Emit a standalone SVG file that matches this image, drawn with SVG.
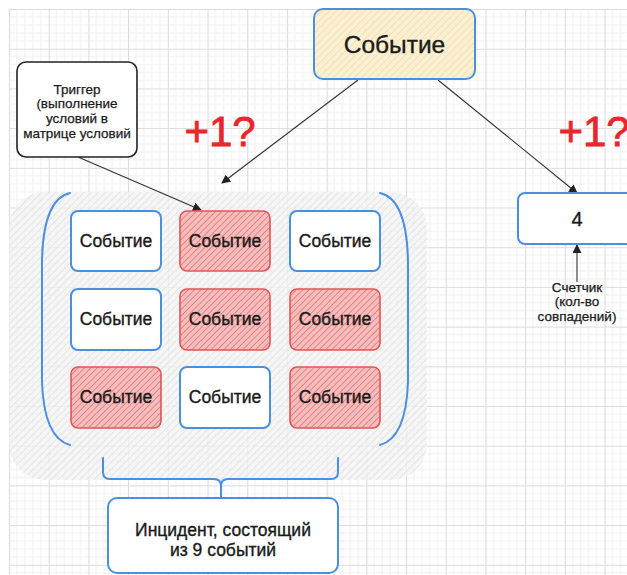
<svg xmlns="http://www.w3.org/2000/svg" width="627" height="575" viewBox="0 0 627 575">
  <defs>
    <pattern id="grid" x="9" y="9" width="39.7" height="39.7" patternUnits="userSpaceOnUse">
      <path d="M7.94 0V39.7M15.88 0V39.7M23.82 0V39.7M31.76 0V39.7M0 7.94H39.7M0 15.88H39.7M0 23.82H39.7M0 31.76H39.7" stroke="#efefef" stroke-width="1" fill="none"/>
      <path d="M0.5 0V39.7M0 0.5H39.7" stroke="#dcdcdc" stroke-width="1.2" fill="none"/>
    </pattern>
    <pattern id="hatchGray" width="5" height="5" patternUnits="userSpaceOnUse" patternTransform="rotate(45)">
      <rect width="5" height="5" fill="#f4f4f4" fill-opacity="0.8"/>
      <line x1="0" y1="0" x2="0" y2="5" stroke="#dddddd" stroke-width="1.3"/>
    </pattern>
    <pattern id="hatchRed" width="4.5" height="4.5" patternUnits="userSpaceOnUse" patternTransform="rotate(45)">
      <rect width="4.5" height="4.5" fill="#f6bdbd"/>
      <line x1="0" y1="0" x2="0" y2="4.5" stroke="#e06a6a" stroke-width="1.4"/>
    </pattern>
    <pattern id="hatchYellow" width="5" height="5" patternUnits="userSpaceOnUse" patternTransform="rotate(45)">
      <rect width="5" height="5" fill="#fcf0d2"/>
      <line x1="0" y1="0" x2="0" y2="5" stroke="#efd9a6" stroke-width="1.3"/>
    </pattern>
    <marker id="arrow" viewBox="0 0 10 10" refX="9" refY="5" markerWidth="9" markerHeight="9" markerUnits="userSpaceOnUse" orient="auto">
      <path d="M0 0L10 5L0 10z" fill="#222"/>
    </marker>
    <style>
      text { font-family: "Liberation Sans", Arial, sans-serif; fill: #1a1a1a; stroke: #1a1a1a; stroke-width: 0.35; text-anchor: middle; }
      .ev { font-size: 17.5px; }
      .small { font-size: 13.5px; stroke-width: 0.25; }
      .plus { font-size: 42px; fill: #e8262b; stroke: #e8262b; stroke-width: 0.8; }
      .blue { fill: #ffffff; stroke: #4a8fe0; stroke-width: 2; }
      .red { fill: url(#hatchRed); stroke: #e25555; stroke-width: 1.6; }
      .brace { fill: none; stroke: #4a8fe0; stroke-width: 2; stroke-linecap: round; }
      .conn { fill: none; stroke: #333; stroke-width: 1.1; }
    </style>
  </defs>

  <!-- canvas grid -->
  <rect width="627" height="575" fill="#ffffff"/>
  <rect x="9" y="9" width="618" height="566" fill="url(#grid)"/>

  <!-- shaded incident area with brackets -->
  <g id="incident-area">
    <rect x="9" y="192" width="418" height="288" rx="36" fill="url(#hatchGray)"/>
    <path class="brace" d="M70 193 Q43 199 42 262 L42 382 Q44 438 70 445"/>
    <path class="brace" d="M380 193 Q407 199 408 262 L408 382 Q406 438 380 445"/>
  </g>

  <!-- connectors -->
  <g id="connectors">
    <path class="conn" d="M358 80 L222 183" marker-end="url(#arrow)"/>
    <path class="conn" d="M438 80 L577 193" marker-end="url(#arrow)"/>
    <path class="conn" d="M78 157 L201 210" marker-end="url(#arrow)"/>
    <path class="conn" d="M577 282 L577 245" marker-end="url(#arrow)"/>
    <path class="brace" d="M103 458 L103 472 Q103 479 110 479 L214 479 Q221 479 221 486 L221 497 M221 486 Q221 479 228 479 L331 479 Q338 479 338 472 L338 458"/>
  </g>

  <!-- source event -->
  <g id="event-source">
    <rect x="314" y="9" width="161" height="70" rx="9" fill="url(#hatchYellow)" stroke="#4a8fe0" stroke-width="2"/>
    <text x="394.5" y="53" style="font-size:24.5px">Событие</text>
  </g>

  <!-- trigger note -->
  <g id="trigger">
    <rect x="17" y="62" width="120" height="95" rx="9" fill="#ffffff" stroke="#222" stroke-width="1.6"/>
    <text class="small" x="77" y="94">Триггер</text>
    <text class="small" x="77" y="108">(выполнение</text>
    <text class="small" x="77" y="123">условий в</text>
    <text class="small" x="77" y="138">матрице условий</text>
  </g>

  <!-- uncertain increment labels -->
  <g id="plus-left"><text class="plus" x="220" y="146">+1?</text></g>
  <g id="plus-right"><text class="plus" x="594" y="146">+1?</text></g>

  <!-- event matrix 3x3 -->
  <g id="ev-1-1"><rect class="blue" x="71" y="211" width="90" height="60" rx="7"/><text class="ev" x="116" y="247">Событие</text></g>
  <g id="ev-1-2"><rect class="red" x="180" y="211" width="90" height="60" rx="7"/><text class="ev" x="225" y="247">Событие</text></g>
  <g id="ev-1-3"><rect class="blue" x="290" y="211" width="90" height="60" rx="7"/><text class="ev" x="335" y="247">Событие</text></g>
  <g id="ev-2-1"><rect class="blue" x="71" y="289" width="90" height="61" rx="7"/><text class="ev" x="116" y="325">Событие</text></g>
  <g id="ev-2-2"><rect class="red" x="180" y="289" width="90" height="61" rx="7"/><text class="ev" x="225" y="325">Событие</text></g>
  <g id="ev-2-3"><rect class="red" x="290" y="289" width="90" height="61" rx="7"/><text class="ev" x="335" y="325">Событие</text></g>
  <g id="ev-3-1"><rect class="red" x="71" y="367" width="90" height="61" rx="7"/><text class="ev" x="116" y="403">Событие</text></g>
  <g id="ev-3-2"><rect class="blue" x="180" y="367" width="90" height="61" rx="7"/><text class="ev" x="225" y="403">Событие</text></g>
  <g id="ev-3-3"><rect class="red" x="290" y="367" width="90" height="61" rx="7"/><text class="ev" x="335" y="403">Событие</text></g>

  <!-- counter -->
  <g id="counter">
    <rect class="blue" x="518" y="193" width="118" height="51" rx="7"/>
    <text x="577" y="226" style="font-size:20px">4</text>
  </g>
  <g id="counter-label">
    <text class="small" x="577" y="292">Счетчик</text>
    <text class="small" x="577" y="306">(кол-во</text>
    <text class="small" x="577" y="321">совпадений)</text>
  </g>

  <!-- incident -->
  <g id="incident">
    <rect class="blue" x="108" y="498" width="230" height="75" rx="9"/>
    <text x="223" y="536" style="font-size:17.5px">Инцидент, состоящий</text>
    <text x="223" y="556" style="font-size:17.5px">из 9 событий</text>
  </g>
</svg>
